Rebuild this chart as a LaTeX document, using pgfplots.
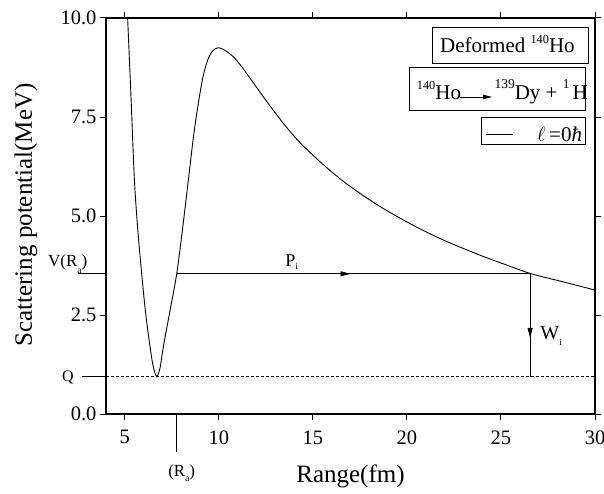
\documentclass[border=0pt]{standalone}
\usepackage{fontspec}
\setmainfont{Liberation Serif}
\usepackage{pgfplots}
\pgfplotsset{compat=1.18}
\usetikzlibrary{arrows.meta}
\newcommand\psub[2][5pt]{\raisebox{-#1}{\fontsize{9.5}{10}\selectfont #2}}
\newcommand\psup[3][8.7pt]{\raisebox{#1}{\fontsize{#2}{#2}\selectfont #3}}
\begin{document}
\begin{tikzpicture}
\begin{axis}[
  at={(0,0)}, anchor=south west,
  scale only axis, width=489pt, height=396pt,
  xmin=4, xmax=30, ymin=0, ymax=10,
  xtick={5,10,...,30}, ytick={0,2.5,5,7.5,10},
  tick align=outside, major tick length=6pt,
  axis line style={line width=1.3pt},
  every tick/.style={black, line width=1pt},
  tick label style={font=\fontsize{20.5}{24}\selectfont},
  xticklabel style={yshift=-7pt},
  /pgf/number format/assume math mode=true,
  y tick label style={/pgf/number format/.cd, fixed, fixed zerofill, precision=1},
  clip=false,
]
% potential curve
\addplot[black, line width=0.9pt, smooth, tension=0.5] coordinates {
(5.15,10.0) (5.33,8.0) (5.51,5.91) (5.70,4.6) (5.90,3.53) (6.10,2.58) (6.34,1.70)
(6.52,1.18) (6.70,0.95) (6.88,1.18) (7.05,1.70) (7.40,2.60) (7.76,3.54) (8.05,4.6)
(8.38,5.91) (8.65,7.0) (8.91,7.85) (9.15,8.5) (9.40,8.93) (9.65,9.16) (9.96,9.25)
(10.30,9.19) (10.77,9.02) (11.20,8.78) (11.66,8.48) (12.55,7.89) (13.43,7.34)
(14.32,6.85) (15.5,6.32) (16.8,5.81) (18.5,5.26) (20.35,4.76) (22.0,4.38)
(23.89,4.01) (25.2,3.78) (26.55,3.55) (28.2,3.35) (30.0,3.13)
};
% Q level
\addplot[black, line width=0.8pt, dash pattern=on 2.5pt off 2.5pt] coordinates {(4,0.94) (30,0.94)};
% P_i arrow
\addplot[black, line width=0.9pt] coordinates {(7.76,3.54) (26.55,3.54)};
\addplot[black, line width=0.9pt, -{Triangle[length=10pt,width=5pt]}] coordinates {(16.2,3.54) (17.0,3.54)};
% W_i arrow
\addplot[black, line width=0.8pt] coordinates {(26.55,3.54) (26.55,0.94)};
\addplot[black, line width=0.8pt, -{Triangle[length=10pt,width=5pt]}] coordinates {(26.55,2.6) (26.55,1.92)};
% annotations
\node[anchor=base west, inner sep=0pt, font=\fontsize{17}{17}\selectfont] at (axis cs:0.915,3.72) {V(R\psub[7pt]{a})};
\node[anchor=base west, inner sep=0pt, font=\fontsize{16}{16}\selectfont] at (axis cs:1.66,0.816) {Q};
\node[anchor=base west, inner sep=0pt, font=\fontsize{17}{17}\selectfont] at (axis cs:7.30,-1.566) {(R\psub[5.5pt]{a})};
\node[anchor=base west, inner sep=0pt, font=\fontsize{18}{18}\selectfont] at (axis cs:13.52,3.72) {P\psub[2.5pt]{i}};
\node[anchor=base west, inner sep=0pt, font=\fontsize{20}{20}\selectfont] at (axis cs:27.09,1.87) {W\psub[6pt]{i}};
\end{axis}
% outside marks (axis box: 489pt x 396pt at origin)
\draw[line width=0.8pt] (0pt,140.2pt) -- (-28pt,140.2pt);
\draw[line width=0.8pt] (0pt,37.2pt) -- (-24pt,37.2pt);
\draw[line width=0.8pt] (70.7pt,0pt) -- (70.7pt,-38pt);
% axis labels
\node[anchor=base, font=\fontsize{25}{25}\selectfont] at (244.5pt,-68pt) {Range(fm)};
\node[anchor=base, rotate=90, font=\fontsize{25}{25}\selectfont] at (-74pt,199pt) {Scattering potential(MeV)};
% legend box 1
\draw[line width=0.8pt] (326pt,351pt) rectangle (482pt,387pt);
\node[anchor=base west, inner sep=0pt, font=\fontsize{21}{21}\selectfont] at (334pt,361.7pt) {Deformed \psup{12.3}{140}Ho};
% legend box 2
\draw[line width=0.8pt] (303pt,304pt) rectangle (479pt,347pt);
\node[anchor=base west, inner sep=0pt, font=\fontsize{21}{21}\selectfont] at (310.7pt,314.7pt) {\psup[9.3pt]{12.3}{140}Ho};
\draw[line width=0.8pt,-{Triangle[length=9pt,width=4.5pt]}] (354pt,317pt) -- (386pt,317pt);
\node[anchor=base west, inner sep=0pt, font=\fontsize{21}{21}\selectfont] at (388.3pt,314.7pt) {\psup[11pt]{13.5}{139}Dy + \psup[11pt]{13.5}{1}\hspace{3pt}H};
% legend box 3
\draw[line width=0.8pt] (375pt,270pt) rectangle (479pt,297pt);
\draw[line width=0.9pt] (380pt,280pt) -- (407pt,280pt);
\node[anchor=base west, inner sep=0pt, font=\fontsize{21}{21}\selectfont] at (431pt,272pt) {$\ell$\,=0\textit{ħ}};
\pgfresetboundingbox
\path[use as bounding box] (-106pt,-79pt) rectangle (498pt,414pt);
\end{tikzpicture}
\end{document}
